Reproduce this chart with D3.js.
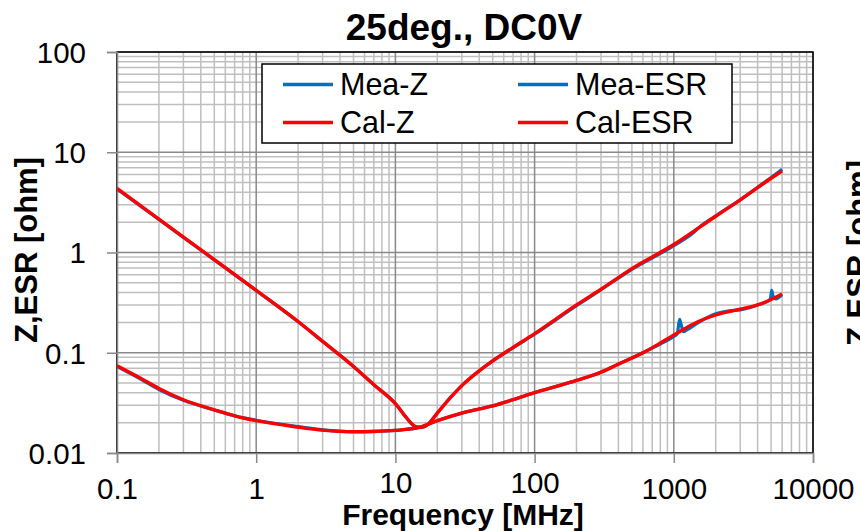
<!DOCTYPE html>
<html>
<head>
<meta charset="utf-8">
<script src="https://cdn.jsdelivr.net/npm/d3@7"></script>
<style>
  body { margin: 0; background: #fff; }
  svg { display: block; font-family: "Liberation Sans", Arial, sans-serif; }
</style>
</head>
<body>
<svg width="860" height="531"></svg>
<script>
// frequency [MHz] / impedance [ohm]
const calZ = [
  [0.1, 4.35], [0.2, 2.15], [0.5, 0.85], [1, 0.42], [2, 0.205], [3, 0.13],
  [5, 0.073], [7, 0.048], [10, 0.031], [12, 0.0225], [13, 0.0198], [14, 0.0183],
  [15, 0.018], [16, 0.0183], [17, 0.0192], [20, 0.025], [25, 0.036], [30, 0.047],
  [40, 0.066], [50, 0.083], [70, 0.113], [100, 0.155], [200, 0.3], [300, 0.43],
  [500, 0.69], [1000, 1.2], [2000, 2.3], [3000, 3.35], [5000, 5.5], [6000, 6.5]
];
const meaZ = [
  [0.1, 4.3], [0.2, 2.13], [0.5, 0.845], [1, 0.418], [2, 0.204], [3, 0.13],
  [5, 0.073], [7, 0.048], [10, 0.031], [12, 0.0225], [13, 0.0197], [14, 0.0182],
  [15, 0.0179], [16, 0.0182], [17, 0.0191], [20, 0.025], [25, 0.036], [30, 0.047],
  [40, 0.066], [50, 0.083], [70, 0.112], [100, 0.153], [200, 0.295], [300, 0.425],
  [500, 0.68], [1000, 1.17], [1400, 1.6], [1500, 1.75], [2000, 2.32], [3000, 3.35],
  [5000, 5.6], [6000, 6.75]
];
const calESR = [
  [0.1, 0.074], [0.15, 0.055], [0.2, 0.044], [0.3, 0.034], [0.5, 0.027],
  [0.7, 0.0235], [1, 0.021], [2, 0.0181], [3, 0.0169], [5, 0.0163], [7, 0.0164],
  [10, 0.0168], [15, 0.0181], [20, 0.021], [30, 0.025], [40, 0.0275], [50, 0.0295],
  [70, 0.034], [100, 0.04], [150, 0.047], [200, 0.053], [300, 0.064], [400, 0.077],
  [600, 0.1], [800, 0.125], [1000, 0.15], [1500, 0.205], [2000, 0.238],
  [3000, 0.272], [4000, 0.3], [5000, 0.34], [6000, 0.385]
];
const meaESR = [
  [0.1, 0.073], [0.15, 0.054], [0.2, 0.043], [0.3, 0.0335], [0.5, 0.0268],
  [0.7, 0.0235], [1, 0.0212], [2, 0.0183], [3, 0.017], [5, 0.0163], [7, 0.0164],
  [10, 0.0168], [15, 0.0181], [20, 0.021], [30, 0.025], [40, 0.0275], [50, 0.0295],
  [70, 0.034], [100, 0.04], [150, 0.047], [200, 0.053], [300, 0.064], [400, 0.077],
  [600, 0.1], [800, 0.122], [1000, 0.145], [1060, 0.155], [1100, 0.215], [1130, 0.19],
  [1170, 0.162], [1250, 0.17], [1500, 0.2], [2000, 0.245], [2500, 0.262], [3000, 0.268],
  [3500, 0.282], [4000, 0.3], [4800, 0.33], [4950, 0.35], [5050, 0.42], [5150, 0.37],
  [5400, 0.345], [6000, 0.38]
];
const series = [
  { name: 'Mea-Z', data: meaZ, color: '#0070C0', width: 3.2 },
  { name: 'Mea-ESR', data: meaESR, color: '#0070C0', width: 3.2 },
  { name: 'Cal-Z', data: calZ, color: '#FF0000', width: 3.4 },
  { name: 'Cal-ESR', data: calESR, color: '#FF0000', width: 3.4 }
];
const xTicks = [0.1, 1, 10, 100, 1000, 10000];
const yTicks = [0.01, 0.1, 1, 10, 100];
const legendOrder = ['Mea-Z', 'Mea-ESR', 'Cal-Z', 'Cal-ESR'];

const svg = d3.select('svg');
const m = { left: 117, right: 813, top: 52, bottom: 453 };

const x = d3.scaleLog().domain([0.1, 10000]).range([m.left, m.right]);
const y = d3.scaleLog().domain([0.01, 100]).range([m.bottom, m.top]);

// minor / major grid values
const minorX = [], minorY = [];
for (let d = 0.1; d < 10000; d *= 10) for (let k = 2; k <= 9; k++) minorX.push(d * k);
for (let d = 0.01; d < 100; d *= 10) for (let k = 2; k <= 9; k++) minorY.push(d * k);

const grid = svg.append('g');
grid.selectAll('.mx').data(minorX).enter().append('line')
  .attr('x1', d => x(d)).attr('x2', d => x(d))
  .attr('y1', m.top).attr('y2', m.bottom)
  .attr('stroke', '#bfbfbf').attr('stroke-width', 1.5);
grid.selectAll('.my').data(minorY).enter().append('line')
  .attr('y1', d => y(d)).attr('y2', d => y(d))
  .attr('x1', m.left).attr('x2', m.right)
  .attr('stroke', '#bfbfbf').attr('stroke-width', 1.5);
grid.selectAll('.Mx').data(xTicks).enter().append('line')
  .attr('x1', d => x(d)).attr('x2', d => x(d))
  .attr('y1', m.top).attr('y2', m.bottom)
  .attr('stroke', '#898989').attr('stroke-width', 1.5);
grid.selectAll('.My').data(yTicks).enter().append('line')
  .attr('y1', d => y(d)).attr('y2', d => y(d))
  .attr('x1', m.left).attr('x2', m.right)
  .attr('stroke', '#898989').attr('stroke-width', 1.5);

// plot border
svg.append('rect')
  .attr('x', m.left).attr('y', m.top)
  .attr('width', m.right - m.left).attr('height', m.bottom - m.top)
  .attr('fill', 'none').attr('stroke', '#000').attr('stroke-width', 1.5);

// axes
const xAxis = svg.append('g')
  .attr('transform', `translate(0,${m.bottom})`)
  .call(d3.axisBottom(x).tickValues(xTicks).tickSize(10).tickPadding(15)
    .tickFormat(d3.format('~g')));
const yAxis = svg.append('g')
  .attr('transform', `translate(${m.left},0)`)
  .call(d3.axisLeft(y).tickValues(yTicks).tickSize(10).tickPadding(21)
    .tickFormat(d => d >= 1 ? d3.format('d')(d) : d3.format('~g')(d)));
[xAxis, yAxis].forEach(a => {
  a.select('.domain').attr('stroke', '#898989').attr('stroke-width', 1.5);
  a.selectAll('.tick line').attr('stroke', '#898989').attr('stroke-width', 1.5);
  a.selectAll('.tick text').attr('fill', '#000')
    .style('font-size', '29.5px').style('font-family', '"Liberation Sans", Arial, sans-serif');
});
xAxis.selectAll('.tick text').attr('dy', '0.71em');
yAxis.selectAll('.tick text').attr('dy', '0.35em');

// curves
svg.append('clipPath').attr('id', 'clip')
  .append('rect').attr('x', m.left).attr('y', m.top)
  .attr('width', m.right - m.left).attr('height', m.bottom - m.top);

const line = d3.line()
  .x(d => x(d[0]))
  .y(d => y(d[1]))
  .curve(d3.curveMonotoneX);

svg.append('g').attr('clip-path', 'url(#clip)')
  .selectAll('path').data(series).enter().append('path')
  .attr('d', d => line(d.data))
  .attr('fill', 'none')
  .attr('stroke', d => d.color)
  .attr('stroke-width', d => d.width)
  .attr('stroke-linejoin', 'round');

// legend
const legend = svg.append('g');
legend.append('rect')
  .attr('x', 262).attr('y', 64).attr('width', 470).attr('height', 79)
  .attr('fill', '#fff').attr('stroke', '#000').attr('stroke-width', 1.5);
const items = legend.selectAll('.item')
  .data(legendOrder.map(n => series.find(s => s.name === n)))
  .enter().append('g')
  .attr('transform', (d, i) => `translate(${i % 2 ? 518 : 283},${i < 2 ? 84.5 : 122.5})`);
items.append('line')
  .attr('x1', 0).attr('x2', 50)
  .attr('stroke', d => d.color).attr('stroke-width', 3.4);
items.append('text')
  .attr('x', 57).attr('dy', '0.36em')
  .style('font-size', '30.5px')
  .text(d => d.name);

// titles
svg.append('text')
  .attr('x', 464).attr('y', 40)
  .attr('text-anchor', 'middle')
  .style('font-size', '37px').style('font-weight', 'bold')
  .text('25deg., DC0V');
const xTitle = svg.append('text')
  .attr('x', 463).attr('y', 525)
  .attr('text-anchor', 'middle')
  .style('font-size', '30px').style('font-weight', 'bold')
  .text('Frequency [MHz]');
svg.append('text')
  .attr('transform', 'translate(37,250) rotate(-90)')
  .attr('text-anchor', 'middle')
  .style('font-size', '31px').style('font-weight', 'bold')
  .text('Z,ESR [ohm]');

// tick labels sitting above the axis title are lifted a little, as in the source
const tb = xTitle.node().getBBox();
xAxis.selectAll('.tick').each(function (d) {
  const t = d3.select(this).select('text');
  const w = t.node().getBBox().width;
  if (x(d) + w / 2 > tb.x && x(d) - w / 2 < tb.x + tb.width) t.attr('y', 19);
});

// neighbouring chart's axis title, cut off at the right edge
svg.append('text')
  .attr('transform', 'translate(869,253) rotate(-90)')
  .attr('text-anchor', 'middle')
  .style('font-size', '31px').style('font-weight', 'bold')
  .text('Z,ESR [ohm]');
</script>
</body>
</html>
